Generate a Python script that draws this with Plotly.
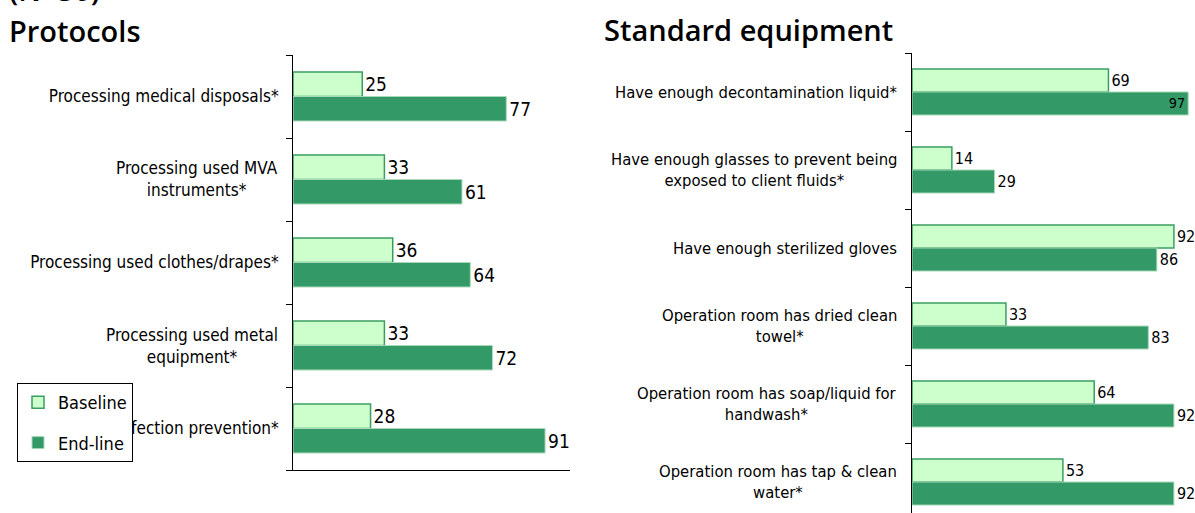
import plotly.graph_objects as go

W, H = 1195, 513

# ---------- data ----------
protocol_cats = [
    "Processing medical disposals*",
    "Processing used MVA<br>instruments*",
    "Processing used clothes/drapes*",
    "Processing used metal<br>equipment*",
    "Infection prevention*",
]
protocol_baseline = [25, 33, 36, 33, 28]
protocol_endline = [77, 61, 64, 72, 91]

equip_cats = [
    "Have enough decontamination liquid*",
    "Have enough glasses to prevent being<br>exposed to client fluids*",
    "Have enough sterilized gloves",
    "Operation room has dried clean<br>towel*",
    "Operation room has soap/liquid for<br>handwash*",
    "Operation room has tap & clean<br>water*",
]
equip_baseline = [69, 14, 92, 33, 64, 53]
equip_endline = [97, 29, 86, 83, 92, 92]

series_names = ["Baseline", "End-line"]
# --------------------------

FONT = "DejaVu Sans Condensed, Liberation Sans Narrow, Roboto, sans-serif"
TITLE_FONT = "Open Sans, sans-serif"
BASE_FILL, BASE_LINE = "#CCFFCC", "#3A9E63"
END_FILL, END_LINE = "#339966", "#A8D9B8"
RIGHT_MAX = 99.4


def px_x(p):
    return p / W


def px_y(p):
    return 1 - p / H


def positions(vals):
    # labels that would run off the right edge are tucked inside the bar end
    return ["inside" if v >= 95 else "outside" for v in vals]


fig = go.Figure()

# left panel
fig.add_trace(go.Bar(
    y=protocol_cats, x=protocol_baseline, orientation="h", name=series_names[0],
    marker=dict(color=BASE_FILL, line=dict(color=BASE_LINE, width=1.5)),
    text=protocol_baseline, textposition="outside", cliponaxis=False, textangle=0,
    textfont=dict(family=FONT, size=19, color="black"),
    xaxis="x", yaxis="y", legendgroup="b",
))
fig.add_trace(go.Bar(
    y=protocol_cats, x=protocol_endline, orientation="h", name=series_names[1],
    marker=dict(color=END_FILL, line=dict(color=END_LINE, width=1)),
    text=protocol_endline, textposition="outside", cliponaxis=False, textangle=0,
    textfont=dict(family=FONT, size=19, color="black"),
    xaxis="x", yaxis="y", legendgroup="e",
))
# right panel
fig.add_trace(go.Bar(
    y=equip_cats, x=equip_baseline, orientation="h", name=series_names[0],
    marker=dict(color=BASE_FILL, line=dict(color=BASE_LINE, width=1.5)),
    text=equip_baseline, textposition=positions(equip_baseline), textangle=0,
    insidetextanchor="end", cliponaxis=False,
    textfont=dict(family=FONT, size=16, color="black"),
    insidetextfont=dict(family=FONT, size=16, color="black"),
    xaxis="x2", yaxis="y2", showlegend=False, legendgroup="b",
))
fig.add_trace(go.Bar(
    y=equip_cats, x=equip_endline, orientation="h", name=series_names[1],
    marker=dict(color=END_FILL, line=dict(color=END_LINE, width=1)),
    text=equip_endline, textposition=positions(equip_endline), textangle=0,
    insidetextanchor="end", cliponaxis=False,
    textfont=dict(family=FONT, size=16, color="black"),
    insidetextfont=dict(family=FONT, size=16, color="black"),
    xaxis="x2", yaxis="y2", showlegend=False, legendgroup="e",
))

annotations = []
# multi-line left labels as centred annotations; single-line ones are tick labels
for c in protocol_cats:
    if "<br>" in c:
        annotations.append(dict(
            text=c, x=px_x(280), xref="paper", xanchor="right", y=c, yref="y",
            yanchor="middle", align="center", showarrow=False,
            font=dict(family=FONT, size=17, color="black"),
        ))
for c in equip_cats:
    annotations.append(dict(
        text=c, x=px_x(899), xref="paper", xanchor="right", y=c, yref="y2",
        yanchor="middle", align="center", showarrow=False,
        font=dict(family=FONT, size=16.5, color="black"),
    ))
annotations += [
    dict(text="Protocols", x=px_x(7), y=px_y(30), xref="paper", yref="paper",
         xanchor="left", yanchor="middle", showarrow=False,
         font=dict(family=TITLE_FONT, size=29, color="black", weight=600)),
    dict(text="Standard equipment", x=px_x(602), y=px_y(29), xref="paper", yref="paper",
         xanchor="left", yanchor="middle", showarrow=False,
         font=dict(family=TITLE_FONT, size=29, color="black", weight=600)),
    dict(text="(N=30)", x=px_x(7), y=px_y(11), xref="paper", yref="paper",
         xanchor="left", yanchor="bottom", showarrow=False,
         font=dict(family=TITLE_FONT, size=29, color="black", weight=600)),
]

left_ticktext = ["" if "<br>" in c else c for c in protocol_cats]

axis_common = dict(showgrid=False, zeroline=False)
fig.update_layout(
    width=W, height=H,
    margin=dict(l=0, r=0, t=0, b=0),
    paper_bgcolor="white", plot_bgcolor="white",
    barmode="group", bargap=0.41, bargroupgap=0,
    font=dict(family=FONT, color="black"),
    xaxis=dict(domain=[px_x(293), px_x(570)], range=[0, 100], anchor="y",
               showticklabels=False, ticks="", showline=True,
               linecolor="black", linewidth=1, **axis_common),
    yaxis=dict(domain=[px_y(470), px_y(55)], anchor="x", type="category",
               autorange=False, range=[4.5, -0.5], tickson="boundaries",
               tickmode="array", tickvals=protocol_cats, ticktext=left_ticktext,
               ticks="outside", ticklen=6, tickcolor="black",
               ticklabelstandoff=10,
               tickfont=dict(family=FONT, size=17, color="black"),
               showticklabels=True, showline=True, linecolor="black",
               linewidth=1, **axis_common),
    xaxis2=dict(domain=[px_x(912), 1.0], range=[0, RIGHT_MAX], anchor="y2",
                showticklabels=False, ticks="", showline=False, **axis_common),
    yaxis2=dict(domain=[0, px_y(53)], anchor="x2", type="category",
                autorange=False, range=[5.397, -0.5], tickson="boundaries",
                ticks="outside", ticklen=6, tickcolor="black",
                showticklabels=False, showline=True, linecolor="black",
                linewidth=1, **axis_common),
    showlegend=True,
    legend=dict(x=px_x(17), y=px_y(383), xanchor="left", yanchor="top",
                bgcolor="white", bordercolor="black", borderwidth=1,
                font=dict(family=FONT, size=18, color="black"),
                traceorder="grouped", tracegroupgap=14,
                itemwidth=30),
    annotations=annotations,
)

fig.write_html("out.html", config={"displayModeBar": False},
               post_script="document.body.style.margin='0';")
